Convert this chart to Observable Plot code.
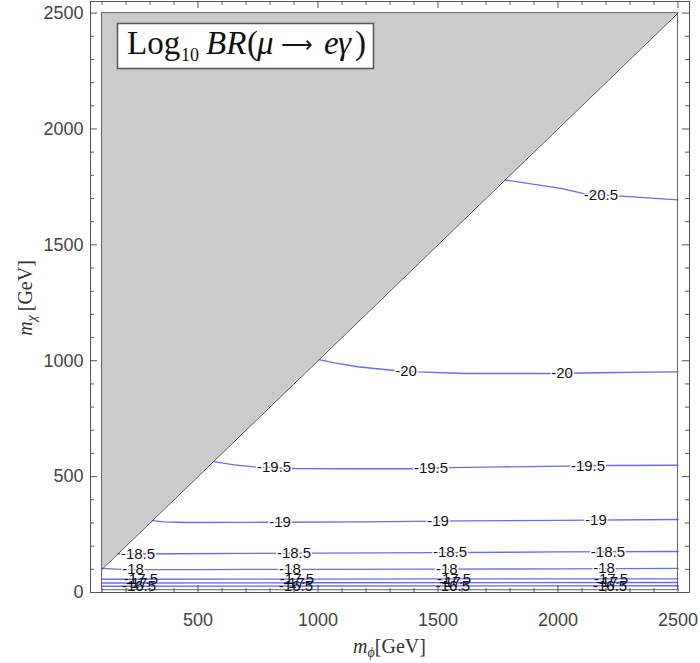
<!DOCTYPE html>
<html>
<head>
<meta charset="utf-8">
<script src="https://cdn.jsdelivr.net/npm/d3@7"></script>
<script src="https://cdn.jsdelivr.net/npm/@observablehq/plot@0.6"></script>
<style>
  html, body { margin: 0; padding: 0; background: white; }
  #chart { width: 700px; height: 663px; }
</style>
</head>
<body>
<div id="chart"></div>
<script>
// ---- data ----
const levels = [-16.5, -17, -17.5, -18, -18.5, -19, -19.5, -20, -20.5];

// contour polylines: [m_phi, m_chi]
const c_16_5 = [[100, 27], [1000, 28], [2500, 29]];
const c_17   = [[100, 41], [1000, 42], [2500, 43]];
const c_17_5 = [[100, 57], [1000, 58], [2500, 59]];
const c_18   = [[100, 104], [200, 99], [500, 99], [1000, 100], [1500, 101], [2000, 102], [2500, 104]];
const c_18_5 = [[166, 166], [400, 167], [1000, 170], [1500, 172], [2000, 175], [2500, 177]];
const c_19   = [[310, 310], [360, 305], [450, 302], [800, 303], [1200, 305], [1600, 309], [2000, 311], [2500, 315]];
const c_19_5 = [[565, 565], [651, 551], [735, 542], [901, 535], [1138, 534], [1388, 534], [1554, 539], [1763, 542], [2040, 545], [2200, 548], [2500, 549]];
const c_20   = [[1005, 1005], [1068, 991], [1165, 974], [1318, 958], [1415, 952], [1610, 945], [1957, 945], [2179, 948], [2374, 951], [2500, 952]];
const c_20_5 = [[1780, 1780], [1874, 1765], [2012, 1744], [2103, 1722], [2249, 1711], [2358, 1704], [2500, 1694]];
const contours = [c_16_5, c_17, c_17_5, c_18, c_18_5, c_19, c_19_5, c_20, c_20_5];

// x positions (m_phi) of the contour labels, per level
const lab_16_5 = [254, 908, 1562, 2217];
const lab_17   = [245, 900, 1550, 2205];
const lab_17_5 = [262, 912, 1567, 2221];
const lab_18   = [229, 883, 1537, 2192];
const lab_18_5 = [250, 900, 1550, 2208];
const lab_19   = [842, 1500, 2158];
const lab_19_5 = [817, 1471, 2125];
const lab_20   = [1367, 2017];
const lab_20_5 = [2179];
const labelXs = [lab_16_5, lab_17, lab_17_5, lab_18, lab_18_5, lab_19, lab_19_5, lab_20, lab_20_5];

// region and axes
const mPhiRange = [100, 2500];
const mChiRange = [10, 2500];
const xTicks = [500, 1000, 1500, 2000, 2500];
const yTicks = [0, 500, 1000, 1500, 2000, 2500];
const xMinor = d3.range(100, 2501, 100).filter(v => v % 500 !== 0);
const yMinor = d3.range(100, 2501, 100).filter(v => v % 500 !== 0);

// ---- build tables ----
const lineRows = contours.flatMap((pts, i) => pts.map(([x, y]) => ({x, y, level: levels[i]})));
function interp(pts, x) {
  for (let k = 0; k < pts.length - 1; k++) {
    const [x0, y0] = pts[k], [x1, y1] = pts[k + 1];
    if (x >= x0 && x <= x1) return y0 + (y1 - y0) * (x - x0) / (x1 - x0);
  }
  return pts[pts.length - 1][1];
}
const labelRows = labelXs.flatMap((xs, i) => xs.map(x => ({x, y: interp(contours[i], x), level: levels[i], text: String(levels[i])})));
const haloLabels = labelRows.filter(d => d.level <= -18);
const plainLabels = labelRows.filter(d => d.level > -18);

const W = 700, H = 663, mL = 90, mR = 11, mT = 1, mB = 71;
const innerW = W - mL - mR, innerH = H - mT - mB;
const frameColor = "#555";
const font = "'Liberation Sans', Arial, sans-serif";

const fig = Plot.plot({
  width: W, height: H,
  marginLeft: mL, marginRight: mR, marginTop: mT, marginBottom: mB,
  style: {fontFamily: font, background: "white", color: "#444"},
  x: {domain: [52, 2548], axis: null},
  y: {domain: [0, 2550], axis: null},
  marks: [
    // grey excluded region (m_chi > m_phi)
    Plot.areaY(mPhiRange, {x: d => d, y1: d => d, y2: mChiRange[1], fill: "#cbcbcb", curve: "linear"}),
    // contours
    Plot.line(lineRows, {x: "x", y: "y", z: "level", stroke: "#6a6af6", strokeWidth: 1.35}),
    // region boundary and diagonal
    Plot.rect([{}], {x1: mPhiRange[0], x2: mPhiRange[1], y1: mChiRange[0], y2: mChiRange[1], fill: "none", stroke: "#666", strokeWidth: 1, inset: 0}),
    Plot.line(mPhiRange, {x: d => d, y: d => d, stroke: "#444", strokeWidth: 1}),
    // contour labels
    Plot.text(haloLabels, {x: "x", y: "y", text: "text", fontSize: 15, fill: "#111", stroke: "white", strokeWidth: 3, fontFamily: font}),
    Plot.text(plainLabels, {x: "x", y: "y", text: "text", fontSize: 15, fill: "#111", fontFamily: font}),
    // outer frame
    Plot.frame({stroke: frameColor, strokeWidth: 1}),
    // inward ticks on all four sides
    Plot.tickX(xTicks, {x: d => d, stroke: frameColor, insetTop: innerH - 7}),
    Plot.tickX(xMinor, {x: d => d, stroke: frameColor, insetTop: innerH - 4}),
    Plot.tickX(xTicks, {x: d => d, stroke: frameColor, insetBottom: innerH - 7}),
    Plot.tickX(xMinor, {x: d => d, stroke: frameColor, insetBottom: innerH - 4}),
    Plot.tickY(yTicks, {y: d => d, stroke: frameColor, insetRight: innerW - 7}),
    Plot.tickY(yMinor, {y: d => d, stroke: frameColor, insetRight: innerW - 4}),
    Plot.tickY(yTicks, {y: d => d, stroke: frameColor, insetLeft: innerW - 7}),
    Plot.tickY(yMinor, {y: d => d, stroke: frameColor, insetLeft: innerW - 4}),
    // tick labels
    Plot.axisX(xTicks, {anchor: "bottom", tickSize: 0, tickPadding: 21, fontSize: 18, fill: "#444", label: null, tickFormat: d => String(d)}),
    Plot.axisY(yTicks, {anchor: "left", tickSize: 0, tickPadding: 7, fontSize: 18, fill: "#444", label: null, tickFormat: d => String(d)})
  ]
});
document.getElementById("chart").appendChild(fig);

// ---- annotations: legend box and axis titles ----
const svg = d3.select(fig);
const serif = "'Liberation Serif', 'Times New Roman', serif";
const g = svg.append("g");
g.append("rect").attr("x", 117.5).attr("y", 23.5).attr("width", 256).attr("height", 45)
  .attr("fill", "white").attr("stroke", "#555").attr("stroke-width", 1.5);
const t = g.append("text").attr("y", 54).attr("text-anchor", "start")
  .attr("font-family", serif).attr("font-size", 33).attr("fill", "#111");
const titleParts = [
  {s: "Log", x: 127},
  {s: "10", x: 181, size: 18, dy: 7},
  {s: "BR", x: 206, italic: true, dy: -7},
  {s: "(", x: 247},
  {s: "μ", x: 257, italic: true},
  {s: "⟶", x: 281, size: 22, dy: -2},
  {s: "e", x: 324, italic: true, dy: 2},
  {s: "γ", x: 338, italic: true},
  {s: ")", x: 355}
];
titleParts.forEach(p => {
  const ts = t.append("tspan").attr("x", p.x).text(p.s);
  if (p.size) ts.attr("font-size", p.size);
  if (p.dy) ts.attr("dy", p.dy);
  if (p.italic) ts.attr("font-style", "italic");
});

const xt = svg.append("text").attr("x", mL + innerW / 2).attr("y", 653).attr("text-anchor", "middle")
  .attr("font-family", serif).attr("font-size", 20).attr("fill", "#333");
xt.append("tspan").attr("font-style", "italic").text("m");
xt.append("tspan").attr("font-style", "italic").attr("font-size", 14).attr("dy", 4).text("ϕ");
xt.append("tspan").attr("dy", -4).text("[GeV]");

const yt = svg.append("text").attr("transform", `translate(32, 298) rotate(-90)`).attr("text-anchor", "middle")
  .attr("font-family", serif).attr("font-size", 20).attr("fill", "#333");
yt.append("tspan").attr("font-style", "italic").text("m");
yt.append("tspan").attr("font-style", "italic").attr("font-size", 14).attr("dy", 4).text("χ");
yt.append("tspan").attr("dy", -4).text("\u2009[GeV]");
</script>
</body>
</html>
